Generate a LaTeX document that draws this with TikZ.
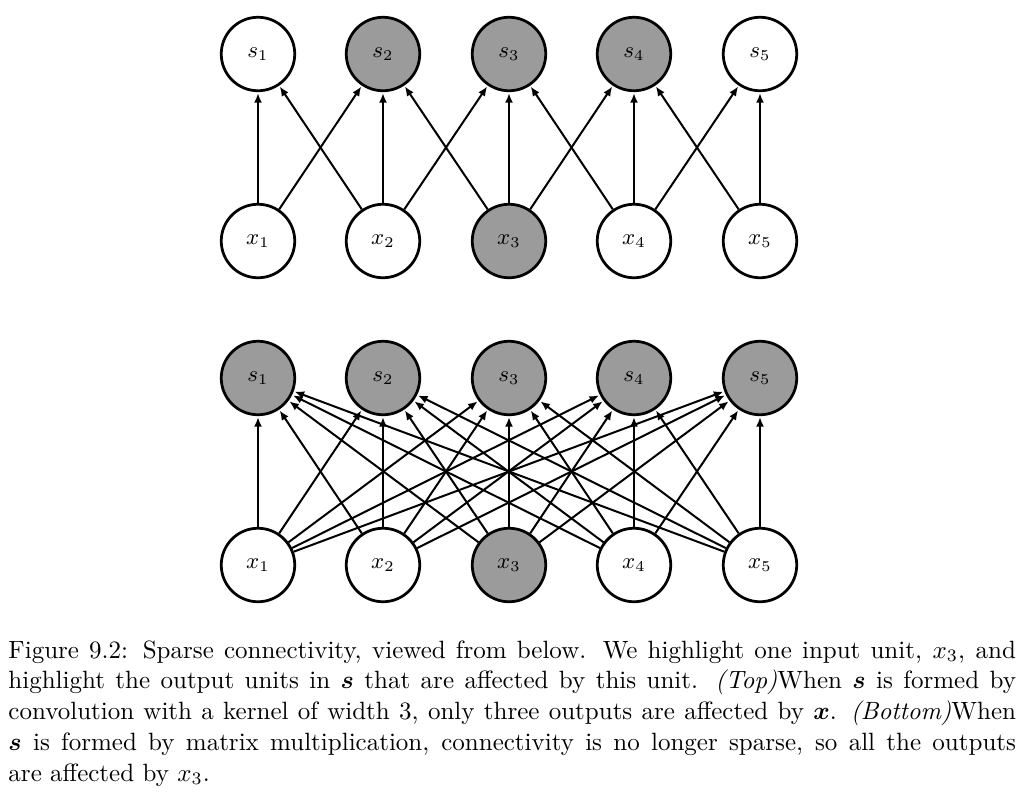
\documentclass[tikz,border=0pt]{standalone}
\usepackage{amsmath}
\usetikzlibrary{arrows.meta}
\definecolor{unitInk}{HTML}{000000}
\definecolor{unitGray}{HTML}{9B9B9B}
\tikzset{
  conv unit/.style={circle, draw=unitInk, line width=1.1pt, fill=white,
    minimum size=29.4pt, inner sep=0pt, font=\small},
  conv hit/.style={conv unit, fill=unitGray},
  conv edge/.style={-{Latex[length=3.8pt,width=3.2pt]}, draw=unitInk,
    line width=0.8pt, shorten >=0.4pt},
  conv caption/.style={anchor=north west, inner sep=0pt, text width=403pt,
    align=justify, font=\fontsize{10}{12.3}\selectfont}
}
\begin{document}
\begin{tikzpicture}[x=0.4pt,y=-0.4pt]
  \useasboundingbox (0,0) rectangle (1036,801);
  % top: kernel of width 3
  \node[conv unit] (s1) at (258,54) {$s_1$};
  \node[conv hit]  (s2) at (383,54) {$s_2$};
  \node[conv hit]  (s3) at (509,54) {$s_3$};
  \node[conv hit]  (s4) at (634,54) {$s_4$};
  \node[conv unit] (s5) at (760,54) {$s_5$};
  \node[conv unit] (x1) at (258,241) {$x_1$};
  \node[conv unit] (x2) at (383,241) {$x_2$};
  \node[conv hit]  (x3) at (509,241) {$x_3$};
  \node[conv unit] (x4) at (634,241) {$x_4$};
  \node[conv unit] (x5) at (760,241) {$x_5$};
  \foreach \i/\j in {1/1,1/2,2/1,2/2,2/3,3/2,3/3,3/4,4/3,4/4,4/5,5/4,5/5}
    \draw[conv edge] (x\i) -- (s\j);
  % bottom: full matrix
  \node[conv hit]  (bs1) at (258,378) {$s_1$};
  \node[conv hit]  (bs2) at (383,378) {$s_2$};
  \node[conv hit]  (bs3) at (509,378) {$s_3$};
  \node[conv hit]  (bs4) at (634,378) {$s_4$};
  \node[conv hit]  (bs5) at (760,378) {$s_5$};
  \node[conv unit] (bx1) at (258,565) {$x_1$};
  \node[conv unit] (bx2) at (383,565) {$x_2$};
  \node[conv hit]  (bx3) at (509,565) {$x_3$};
  \node[conv unit] (bx4) at (634,565) {$x_4$};
  \node[conv unit] (bx5) at (760,565) {$x_5$};
  \foreach \i in {1,...,5}
    \foreach \j in {1,...,5}
      \draw[conv edge] (bx\i) -- (bs\j);
  \node[conv caption] (caption) at (8,640) {Figure 9.2: Sparse connectivity, viewed from below. We highlight one input unit, $x_3$, and\linebreak
    highlight the output units in $\boldsymbol{s}$ that are affected by this unit. \textit{(Top)}When $\boldsymbol{s}$ is formed by\linebreak
    convolution with a kernel of width 3, only three outputs are affected by $\boldsymbol{x}$. \textit{(Bottom)}When\linebreak
    $\boldsymbol{s}$ is formed by matrix multiplication, connectivity is no longer sparse, so all the outputs\linebreak
    are affected by $x_3$.};
\end{tikzpicture}
\end{document}
